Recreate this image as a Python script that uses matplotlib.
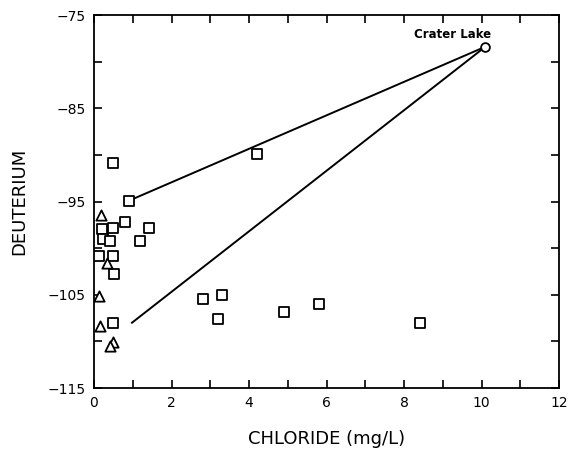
import matplotlib
matplotlib.use("Agg")
import matplotlib.pyplot as plt
from matplotlib.ticker import MultipleLocator

# Chloride (mg/L) and deuterium values
square_cl = [0.50, 0.91, 0.81, 0.21, 0.50, 1.41, 0.22, 0.40, 1.19, 0.14, 0.50,
             0.52, 0.50, 2.80, 3.30, 3.20, 4.90, 5.80, 8.40, 4.20]
square_dd = [-90.9, -94.9, -97.2, -97.9, -97.8, -97.8, -99.0, -99.2, -99.2,
             -100.8, -100.8, -102.8, -108.0, -105.5, -105.0, -107.6, -106.8,
             -106.0, -108.0, -89.9]

triangle_cl = [0.17, 0.33, 0.14, 0.15, 0.50, 0.40]
triangle_dd = [-96.4, -101.6, -105.1, -108.3, -110.1, -110.5]

lake_cl = [10.1]
lake_dd = [-78.4]
lake_name = "Crater Lake"

# Mixing lines from the lake to the two end members
mix_upper_cl = [0.91, 10.1]
mix_upper_dd = [-94.9, -78.4]
mix_lower_cl = [0.98, 10.1]
mix_lower_dd = [-108.0, -78.4]

fig = plt.figure(figsize=(5.68, 4.49), dpi=100)
ax = fig.add_axes([94 / 568, 1 - 388 / 449, (559 - 94) / 568, (388 - 15) / 449])

ax.plot(mix_upper_cl, mix_upper_dd, color="black", lw=1.4)
ax.plot(mix_lower_cl, mix_lower_dd, color="black", lw=1.4)

ax.scatter(square_cl, square_dd, marker="s", s=55, facecolors="white",
           edgecolors="black", linewidths=1.3, zorder=3)
ax.scatter(triangle_cl, triangle_dd, marker="^", s=55, facecolors="white",
           edgecolors="black", linewidths=1.3, zorder=3)
ax.scatter(lake_cl, lake_dd, marker="o", s=40, facecolors="white",
           edgecolors="black", linewidths=1.3, zorder=4)
ax.text(9.26, -77.1, lake_name, ha="center", va="center", fontsize=8.5,
        fontweight="bold")

ax.set_xlim(0, 12)
ax.set_ylim(-115, -75)
ax.xaxis.set_major_locator(MultipleLocator(2))
ax.xaxis.set_minor_locator(MultipleLocator(1))
ax.yaxis.set_major_locator(MultipleLocator(10))
ax.yaxis.set_minor_locator(MultipleLocator(5))
ax.set_yticks([-115, -105, -95, -85, -75])
ax.tick_params(which="both", direction="in", top=True, right=True,
               labelsize=10, width=1.2)
ax.tick_params(which="major", length=6, pad=6)
ax.tick_params(which="minor", length=6)
for s in ax.spines.values():
    s.set_linewidth(1.3)

ax.set_xlabel("CHLORIDE (mg/L)", fontsize=13, labelpad=14)
ax.set_ylabel("DEUTERIUM", fontsize=13, labelpad=14)

fig.savefig("out.png", dpi=100)
